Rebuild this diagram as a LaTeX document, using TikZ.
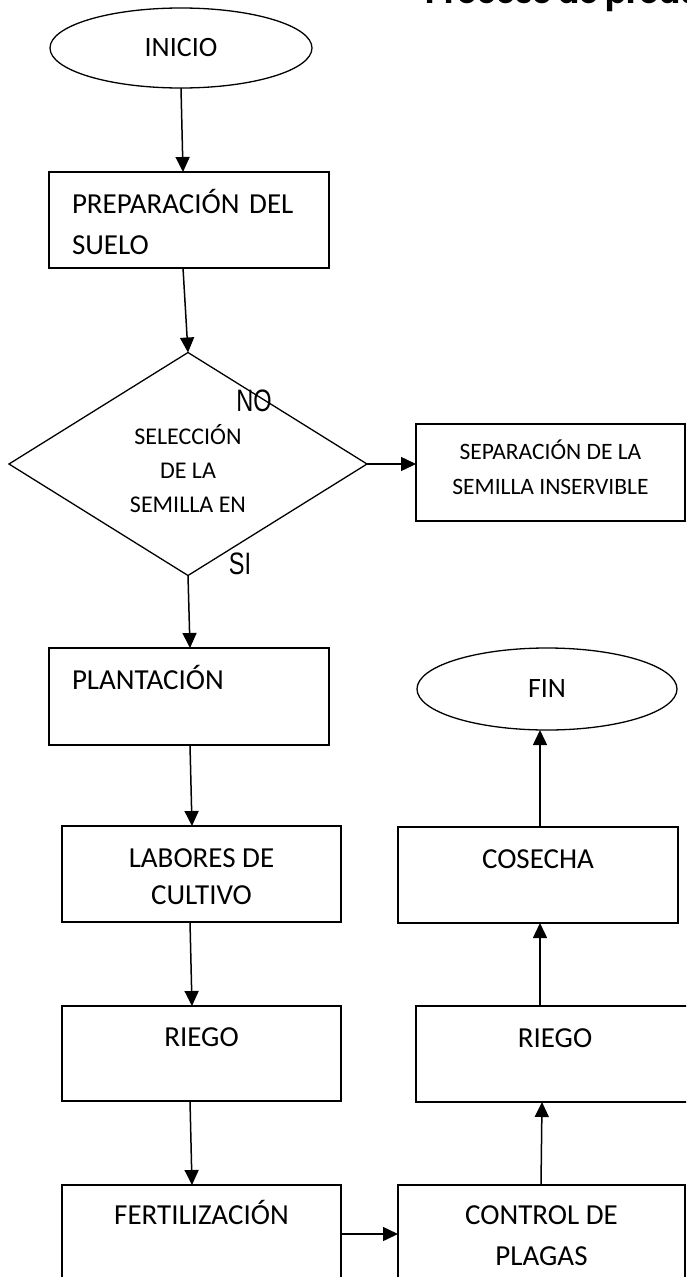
\documentclass[tikz,border=0pt]{standalone}
\usepackage{fontspec}
\setmainfont{Carlito}
\newfontfamily\narrowfont[FakeStretch=0.76]{Liberation Sans}
\newfontfamily\titlefont{Poppins}
\usetikzlibrary{shapes.geometric,arrows.meta,calc}
\newcommand\sA{\rule[-7pt]{0pt}{37pt}}
\newcommand\sB{\rule[-7pt]{0pt}{41pt}}
\newcommand\sC{\rule[-11pt]{0pt}{41pt}}
\newcommand\sD{\rule[-3pt]{0pt}{34pt}}
\newcommand\sE{\rule[-13pt]{0pt}{35pt}}
\begin{document}
\begin{tikzpicture}[x=1pt,y=1pt,
  every node/.style={inner sep=0pt, outer sep=0pt},
  box/.style={draw, line width=1.3pt, rectangle, anchor=north west, align=center,
    font=\fontsize{29}{37}\selectfont},
  leftbox/.style={box, align=left, inner xsep=23pt},
  term/.style={draw, line width=1.3pt, ellipse, font=\fontsize{28}{34}\selectfont},
  decision/.style={draw, line width=1.3pt, diamond, align=center,
    font=\fontsize{24}{34}\selectfont},
  yesno/.style={font=\narrowfont\fontsize{31}{31}\selectfont},
  arr/.style={-{Triangle[length=15pt,width=14pt]}, line width=1.5pt}]
\clip (0,0) rectangle (686,-1277);
\fill[white] (0,0) rectangle (686,-1277);

\node[anchor=base west] (title) at (425,-3) {\titlefont\bfseries\fontsize{31}{31}\selectfont Proceso de produ};

\node[term, minimum width=262pt, minimum height=80pt] (inicio) at (181,-48) {INICIO};
\node[leftbox, text width=234pt, minimum height=96pt, font=\fontsize{29}{41}\selectfont] (prep) at (49,-172) {PREPARACIÓN DEL\sB\\SUELO\sB};
\node[decision, minimum width=358pt, minimum height=223pt] (dia) at (188,-464) {SELECCIÓN\sD\\DE LA\sD\\SEMILLA EN\sD};
\node[box, minimum width=269pt, minimum height=97pt, font=\fontsize{23.5}{35}\selectfont] (sep) at (416,-424) {SEPARACIÓN DE LA\sE\\SEMILLA INSERVIBLE\sE};
\node[leftbox, text width=234pt, minimum height=97pt] (plant) at (49,-648) {PLANTACIÓN\sA\\\sA};
\node[box, minimum width=279pt, minimum height=96pt] (labores) at (62,-826) {LABORES DE\sA\\CULTIVO\sA};
\node[box, minimum width=279pt, minimum height=95pt] (riegoL) at (62,-1006) {RIEGO\sA\\\sA};
\node[box, minimum width=279pt, minimum height=100pt, font=\fontsize{29}{41}\selectfont] (fert) at (62,-1185) {FERTILIZACIÓN\sC\\\sC};
\node[box, minimum width=287pt, minimum height=100pt, font=\fontsize{29}{41}\selectfont] (control) at (398,-1185) {CONTROL DE\sC\\PLAGAS\sC};
\node[box, minimum width=278pt, minimum height=96pt] (riegoR) at (416,-1006) {RIEGO\sA\\\sA};
\node[box, minimum width=280pt, minimum height=96pt] (cosecha) at (398,-827) {COSECHA\sA\\\sA};
\node[term, minimum width=260pt, minimum height=82pt] (fin) at (547,-689) {FIN};

\node[yesno] (no) at (254,-401) {NO};
\node[yesno] (si) at (240,-564) {SI};

\draw[arr] (inicio.south) -- ($(prep.north west)+(134,0)$);
\draw[arr] ($(prep.south west)+(134,0)$) -- (dia.north);
\draw[arr] (dia.east) -- (dia.east -| sep.west);
\draw[arr] (dia.south) -- ($(plant.north west)+(141,0)$);
\draw[arr] ($(plant.south west)+(141,0)$) -- ($(labores.north west)+(130,0)$);
\draw[arr] ($(labores.south west)+(128,0)$) -- ($(riegoL.north west)+(130,0)$);
\draw[arr] ($(riegoL.south west)+(128,0)$) -- ($(fert.north west)+(130,0)$);
\draw[arr] ($(fert.north east)+(0,-49)$) -- ($(control.north west)+(0,-49)$);
\draw[arr] ($(control.north west)+(143,0)$) -- ($(riegoR.south west)+(126,0)$);
\draw[arr] ($(riegoR.north west)+(124,0)$) -- ($(cosecha.south west)+(142,0)$);
\draw[arr] ($(cosecha.north west)+(142,0)$) -- ($(fin.south)+(-7,0)$);
\end{tikzpicture}
\end{document}
